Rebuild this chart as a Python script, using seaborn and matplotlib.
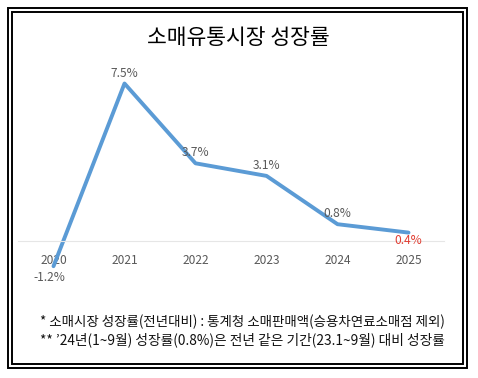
import matplotlib
matplotlib.use('Agg')
import matplotlib.pyplot as plt
import seaborn as sns
import pandas as pd
from matplotlib.patches import Rectangle

years = ['2020', '2021', '2022', '2023', '2024', '2025']
growth = [-1.2, 7.5, 3.7, 3.1, 0.8, 0.4]
labels = ['-1.2%', '7.5%', '3.7%', '3.1%', '0.8%', '0.4%']
title = '소매유통시장 성장률'
note1 = '* 소매시장 성장률(전년대비) : 통계청 소매판매액(승용차연료소매점 제외)'
note2 = '** \u201924년(1~9월) 성장률(0.8%)은 전년 같은 기간(23.1~9월) 대비 성장률'

sns.set_style('white')
plt.rcParams['font.family'] = ['Noto Sans CJK KR', 'DejaVu Sans']

W, H = 478, 378
fig = plt.figure(figsize=(W / 100, H / 100), dpi=100)
fig.patch.set_facecolor('white')

def px(x0, y0, x1, y1):
    return [x0 / W, 1 - y1 / H, (x1 - x0) / W, (y1 - y0) / H]

# double border
for (x0, y0, x1, y1) in [(8, 8, 467, 368), (12, 12, 463, 364)]:
    fig.patches.append(Rectangle((x0 / W, 1 - y1 / H), (x1 - x0) / W, (y1 - y0) / H,
                                 transform=fig.transFigure, fill=False,
                                 edgecolor='black', linewidth=1.4))

# axes: 0 at y=241px, ~21px per unit
top_px, bot_px = 70, 290
ax = fig.add_axes(px(18, top_px, 444, bot_px))
ax.set_facecolor('none')
df = pd.DataFrame({'year': years, 'growth': growth})
sns.lineplot(data=df, x='year', y='growth', ax=ax, color='#5B9BD5', linewidth=2.8,
             sort=False)
ax.set_xlim(-0.5, len(years) - 0.5)
ax.set_ylim(-(bot_px - 241) / 21, (241 - top_px) / 21)

for s in ['top', 'right', 'left']:
    ax.spines[s].set_visible(False)
ax.spines['bottom'].set_position(('data', 0))
ax.spines['bottom'].set_color('#e6e6e6')
ax.spines['bottom'].set_linewidth(0.8)
ax.set_yticks([])
ax.tick_params(axis='x', length=0, pad=9, labelsize=8.6, labelcolor='#595959')
ax.set_xlabel('')
ax.set_ylabel('')

for i, (v, lab) in enumerate(zip(growth, labels)):
    last = i == len(growth) - 1
    below = v < 0 or last
    dy = -8 if below else 7.5
    if last:
        dy = -5.5
    dx = -3 if v < 0 else 0
    ax.annotate(lab, (i, v), xytext=(dx, dy), textcoords='offset points',
                ha='center', va='center', fontsize=8.6,
                color='#E03C31' if last else '#595959')

fig.text(238 / W, 1 - 38 / H, title, ha='center', va='center', fontsize=15.5,
         color='black', fontweight='medium')

for y, t in [(322, note1), (340, note2)]:
    txt = fig.text(40 / W, 1 - y / H, t, ha='left', va='center', fontsize=9,
                   color='#111111')
    r = fig.canvas.get_renderer()
    w = txt.get_window_extent(r).width
    txt.set_fontsize(9 * 405 / w)

fig.savefig('out.png', dpi=100, facecolor='white')
